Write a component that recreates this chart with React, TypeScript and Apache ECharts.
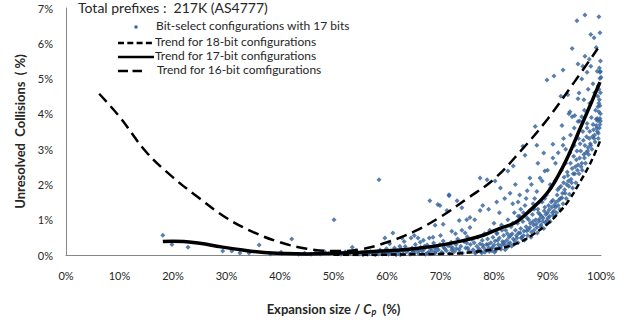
import React, { useEffect, useRef } from "react";
import * as echarts from "echarts";

const xTicks = [0, 10, 20, 30, 40, 50, 60, 70, 80, 90, 100];
const yTicks = [0, 1, 2, 3, 4, 5, 6, 7];

const titleText = "Total prefixes :  217K (AS4777)";
const scatterName = "Bit-select configurations with 17 bits";
const trend18Name = "Trend for 18-bit configurations";
const trend17Name = "Trend for 17-bit configurations";
const trend16Name = "Trend for 16-bit comfigurations";

// Trend lines [expansion %, unresolved collisions %]
const trend16: [number, number][] = [
  [6.2, 4.57], [10, 3.92], [15, 2.92], [20, 2.2], [25, 1.6], [30, 1.05], [35, 0.65],
  [40, 0.36], [45, 0.18], [50, 0.11], [55, 0.16], [60, 0.36], [65, 0.66], [70, 1.08],
  [75, 1.6], [80, 2.15], [85, 2.95], [90, 3.85], [95, 4.9], [99.4, 5.85],
];
const trend17: [number, number][] = [
  [18.1, 0.38], [20, 0.39], [22, 0.385], [25, 0.33], [29, 0.23], [33, 0.14], [37, 0.07],
  [41, 0.04], [45, 0.03], [50, 0.05], [55, 0.08], [60, 0.12], [65, 0.18], [70, 0.28],
  [74, 0.4], [78, 0.56], [81, 0.75], [84, 0.92], [87, 1.3], [89.9, 1.75], [92, 2.25],
  [94, 2.85], [96, 3.55], [98, 4.25], [99.8, 4.9],
];
const trend18: [number, number][] = [
  [50, 0.01], [55, 0.0], [60, 0.01], [65, 0.02], [70, 0.03], [74, 0.05], [78, 0.12],
  [82, 0.22], [85, 0.38], [87.5, 0.6], [90, 0.88], [92, 1.18], [94, 1.55], [96, 2.05],
  [98, 2.6], [99.8, 3.22],
];

// Bit-select configurations with 17 bits [expansion %, collisions %]
const bitSelectLeft: [number, number][] = [
  [18.1, 0.56], [19.8, 0.3], [22.8, 0.22], [29.3, 0.11], [31.0, 0.11], [32.5, 0.06],
  [34.2, 0.06], [36.1, 0.28], [38.2, 0.03], [40.2, 0.08], [42.2, 0.45], [43.5, 0.02],
  [44.6, 0.05], [45.8, 0.02], [46.7, 0.07], [47.5, 0.03], [48.3, 0.1], [49.1, 0.04],
  [50.1, 1.0], [50.6, 0.06], [51.4, 0.02], [52.2, 0.09], [53.0, 0.04], [53.5, 0.22],
  [54.2, 0.12], [54.8, 0.03],
];
const bitSelectOutliers: [number, number][] = [
  [58.5, 2.13], [59.6, 0.48], [61.1, 0.62], [62.4, 0.25], [62.8, 0.48], [64.5, 0.48],
  [65.8, 0.48], [66.2, 0.36], [68.0, 1.54], [67.9, 0.48], [69.0, 0.84], [69.5, 1.43],
  [70.5, 0.87], [71.2, 1.26], [71.6, 1.68], [72.1, 0.67], [73.1, 1.54], [73.5, 0.98],
  [74.0, 1.34], [74.9, 1.0], [75.5, 1.06], [76.4, 1.0], [77.4, 2.18], [78.7, 2.13],
  [77.4, 1.26], [77.9, 1.4], [75.5, 0.78], [74.0, 0.7], [69.9, 1.4], [71.6, 1.71],
  [80.2, 2.1], [82.6, 2.38], [83.6, 2.52], [60.5, 0.32], [63.2, 0.38], [66.8, 0.42],
  [70.0, 0.55], [72.8, 0.6], [74.6, 0.62], [65.1, 0.55], [68.6, 0.5],
];
const bitSelectLowBand: [number, number][] = [
  [55.5, 0.01], [55.9, 0.06], [56.4, 0.02], [56.9, 0.1], [57.3, 0.04], [57.8, 0.01],
  [58.2, 0.08], [58.7, 0.14], [59.1, 0.03], [59.4, 0.06], [59.9, 0.18], [60.3, 0.02],
  [60.6, 0.1], [61.0, 0.05], [61.4, 0.2], [61.7, 0.01], [62.0, 0.12], [62.3, 0.06],
  [62.7, 0.16], [63.0, 0.03], [63.4, 0.24], [63.7, 0.09], [64.0, 0.14], [64.3, 0.02],
  [64.7, 0.2], [65.0, 0.07], [65.3, 0.3], [65.6, 0.12], [65.9, 0.04], [66.3, 0.22],
  [66.6, 0.1], [66.9, 0.16], [67.2, 0.02], [67.5, 0.28], [67.8, 0.08], [68.1, 0.18],
  [68.4, 0.12], [68.7, 0.34], [69.0, 0.05], [69.3, 0.22], [69.6, 0.15], [69.9, 0.3],
  [70.2, 0.08], [70.5, 0.4], [70.8, 0.18], [71.1, 0.12], [71.4, 0.26], [71.7, 0.04],
  [72.0, 0.36], [72.3, 0.2], [72.6, 0.1], [72.9, 0.3], [73.2, 0.45], [73.5, 0.16],
  [73.8, 0.25], [74.1, 0.06], [74.4, 0.38], [74.7, 0.2], [75.0, 0.52], [75.3, 0.12],
  [75.6, 0.3], [75.9, 0.44], [60.1, 0.05], [61.6, 0.08], [63.1, 0.12], [64.6, 0.05],
  [66.1, 0.14], [67.6, 0.06], [69.1, 0.1], [70.6, 0.22], [72.1, 0.14], [73.6, 0.08],
  [75.1, 0.2], [76.9, 0.1], [77.9, 0.28], [56.6, 0.04], [58.4, 0.03], [59.7, 0.09],
  [62.5, 0.01], [64.9, 0.1], [67.0, 0.25], [68.9, 0.2], [70.4, 0.05], [71.9, 0.24],
  [73.0, 0.18], [74.9, 0.34],
];
const bitSelectMainBand: [number, number][] = [
  [76.1, 0.15], [76.3, 0.35], [76.6, 0.08], [76.8, 0.25], [77.0, 0.5], [77.2, 0.18],
  [77.4, 0.32], [77.6, 0.1], [77.8, 0.42], [78.0, 0.22], [78.2, 0.6], [78.4, 0.14],
  [78.6, 0.3], [78.8, 0.45], [79.0, 0.2], [79.2, 0.7], [79.4, 0.35], [79.6, 0.12],
  [79.8, 0.5], [80.0, 0.28], [80.2, 0.4], [80.4, 0.18], [80.6, 0.62], [80.8, 0.3],
  [81.0, 0.48], [81.2, 0.22], [81.4, 0.85], [81.6, 0.38], [81.8, 0.55], [82.0, 0.28],
  [82.2, 0.7], [82.4, 0.42], [82.6, 1.0], [82.8, 0.5], [83.0, 0.35], [83.2, 0.8],
  [83.4, 0.6], [83.6, 0.45], [83.8, 1.2], [84.0, 0.7], [84.2, 0.55], [84.4, 0.9],
  [84.6, 0.62], [84.8, 1.1], [85.0, 0.75], [85.2, 0.5], [85.4, 0.95], [85.6, 0.68],
  [85.8, 1.4], [86.0, 0.8], [86.2, 1.05], [86.4, 0.72], [86.6, 1.25], [86.8, 0.9],
  [87.0, 0.65], [87.2, 1.15], [87.4, 0.85], [87.6, 1.6], [87.8, 1.0], [88.0, 0.78],
  [88.2, 1.3], [88.4, 0.95], [88.6, 1.15], [88.8, 0.85], [89.0, 1.5], [89.2, 1.05],
  [89.4, 1.25], [89.6, 0.92], [89.8, 1.7], [90.0, 1.2], [90.2, 1.4], [90.4, 1.1],
  [90.6, 1.9], [90.8, 1.35], [91.0, 1.55], [91.2, 1.25], [91.4, 2.1], [91.6, 1.5],
  [91.8, 1.7], [92.0, 1.4], [92.2, 1.9], [92.4, 1.6], [92.6, 2.4], [92.8, 1.75],
  [93.0, 2.05], [93.2, 1.85], [93.4, 2.6], [93.6, 2.0], [93.8, 2.25], [94.0, 1.95],
  [94.2, 2.9], [94.4, 2.15], [94.6, 2.45], [94.8, 2.3], [95.0, 3.1], [95.2, 2.5],
  [95.4, 2.7], [95.6, 2.4], [95.8, 3.3], [96.0, 2.75], [96.2, 2.95], [96.4, 2.6],
  [96.6, 3.5], [96.8, 2.85], [97.0, 3.1], [97.2, 2.9], [97.4, 3.6], [97.6, 3.05],
  [97.8, 3.3], [98.0, 3.15], [98.2, 3.9], [98.4, 3.35], [98.6, 3.55], [98.8, 3.4],
  [99.0, 4.1], [99.2, 3.6], [99.4, 3.8], [99.6, 4.3], [99.8, 3.7], [99.9, 4.6],
  [78.3, 0.08], [79.1, 0.1], [79.7, 0.22], [80.3, 0.12], [80.9, 0.2], [81.5, 0.3],
  [82.1, 0.15], [82.7, 0.32], [83.3, 0.25], [83.9, 0.4], [84.5, 0.35], [85.1, 0.48],
  [85.7, 0.42], [86.3, 0.55], [86.9, 0.5], [87.5, 0.7], [88.1, 0.62], [88.7, 0.8],
  [89.3, 0.75], [89.9, 0.98], [90.5, 0.95], [91.1, 1.12], [91.7, 1.2], [92.3, 1.3],
  [92.9, 1.45], [93.5, 1.6], [94.1, 1.72], [94.7, 1.9], [95.3, 2.05], [95.9, 2.3],
  [96.5, 2.4], [97.1, 2.6], [97.7, 2.85], [98.3, 3.0], [98.9, 3.2], [99.5, 3.45],
];
const bitSelectCore: [number, number][] = [
  [76.5, 0.05], [77.1, 0.12], [77.7, 0.06], [78.9, 0.3], [79.5, 0.18], [80.1, 0.08],
  [80.7, 0.42], [81.3, 0.16], [81.9, 0.36], [82.5, 0.22], [83.1, 0.55], [83.7, 0.3],
  [84.3, 0.48], [84.9, 0.62], [85.5, 0.55], [86.1, 0.68], [86.7, 0.78], [87.3, 0.95],
  [87.9, 0.88], [88.5, 1.02], [89.1, 0.95], [89.7, 1.15], [90.3, 1.28], [90.9, 1.2],
  [91.5, 1.35], [92.1, 1.55], [92.7, 1.62], [93.3, 1.75], [93.9, 2.1], [94.5, 2.05],
  [95.1, 2.3], [95.7, 2.55], [96.3, 2.5], [96.9, 2.75], [97.5, 2.95], [98.1, 3.1],
  [98.7, 3.3], [99.3, 3.5], [99.9, 3.8], [88.3, 1.2], [88.9, 1.1], [89.5, 1.35],
  [90.1, 1.05], [90.7, 1.5], [91.3, 1.42], [91.9, 1.85], [92.5, 1.95], [93.1, 2.2],
  [93.7, 2.35], [94.3, 2.6], [94.9, 2.8], [95.5, 2.95], [96.1, 3.15], [96.7, 3.25],
  [97.3, 3.35], [97.9, 3.5], [98.5, 3.7], [99.1, 3.85], [99.7, 4.4], [99.6, 4.7],
  [99.8, 5.0], [99.4, 4.2], [99.9, 5.2], [80.5, 0.6], [81.5, 0.7], [82.5, 0.6],
  [83.5, 0.9], [84.5, 1.1], [85.5, 1.2], [86.5, 1.0], [87.5, 1.3], [88.5, 1.5],
  [89.5, 1.6],
];
const bitSelectUpper: [number, number][] = [
  [80.5, 1.5], [81.2, 1.9], [82.0, 1.6], [83.0, 1.75], [84.0, 2.0], [84.5, 1.5],
  [85.4, 3.08], [85.8, 2.83], [86.2, 1.82], [86.7, 2.18], [87.0, 2.0], [87.7, 3.64],
  [88.0, 3.11], [88.2, 2.6], [88.6, 2.18], [89.3, 2.89], [89.5, 2.38], [89.9, 4.96],
  [91.0, 3.14], [91.0, 2.75], [91.2, 5.07], [92.5, 4.5], [92.7, 3.67], [92.9, 3.11],
  [92.9, 5.24], [93.8, 4.54], [94.0, 4.0], [94.2, 4.06], [94.6, 3.92], [94.6, 5.85],
  [95.1, 3.95], [95.5, 6.64], [95.7, 5.41], [95.7, 4.43], [95.7, 3.78], [95.9, 4.59],
  [96.4, 4.99], [96.4, 3.92], [96.6, 5.35], [96.8, 4.4], [97.0, 6.8], [97.0, 5.63],
  [97.4, 5.18], [97.4, 3.73], [97.6, 4.7], [97.8, 5.55], [98.1, 6.25], [98.1, 5.35],
  [98.5, 4.85], [98.7, 6.16], [99.1, 5.88], [99.1, 3.67], [99.3, 5.21], [99.3, 3.87],
  [99.4, 4.5], [99.6, 6.75], [99.6, 4.06], [99.8, 6.3], [99.8, 5.18], [99.8, 4.23],
  [99.8, 3.87], [100, 5.04], [85.0, 1.3], [86.0, 1.6], [87.3, 1.45], [88.0, 1.8],
  [89.0, 2.1], [90.0, 2.4], [90.5, 2.0], [91.5, 2.6], [92.0, 2.9], [93.0, 3.3],
  [93.4, 3.0], [94.3, 3.4], [95.0, 3.6], [96.0, 3.8], [96.9, 4.1], [97.9, 4.3],
  [98.8, 4.6], [99.5, 4.8], [99.7, 5.3], [99.9, 5.5], [99.5, 3.3], [99.7, 3.6],
  [99.9, 4.0], [79.0, 1.3], [80.0, 0.9], [81.0, 1.2], [83.5, 1.45], [84.8, 1.7],
];

const FONT = "Lato, 'Liberation Sans', sans-serif";
const TEXT = "#262626";
const AXIS = "#868686";
const DOT = "#2f5f98";

export default function App() {
  const ref = useRef<HTMLDivElement>(null);
  useEffect(() => {
    if (!ref.current) return;
    const chart = echarts.init(ref.current, null, { renderer: "svg" });
    const points = [
      ...bitSelectLeft,
      ...bitSelectOutliers,
      ...bitSelectLowBand,
      ...bitSelectMainBand,
      ...bitSelectCore,
      ...bitSelectUpper,
    ];
    const legendText = (y: number, x: number, text: string) => ({
      type: "text",
      left: x,
      top: y - 7.5,
      style: { text, fill: TEXT, font: `12px ${FONT}` },
    });
    chart.setOption({
      animation: false,
      backgroundColor: "#ffffff",
      grid: { left: 66, right: 30, top: 8, bottom: 63, containLabel: false },
      xAxis: {
        type: "value",
        min: xTicks[0],
        max: xTicks[xTicks.length - 1],
        interval: 10,
        name: "{b|Expansion size / }{i|C}{s|p}{b|  (%)}",
        nameLocation: "middle",
        nameGap: 46,
        nameTextStyle: {
          rich: {
            b: { fontFamily: FONT, fontSize: 13, fontWeight: "bold", color: TEXT },
            i: { fontFamily: FONT, fontSize: 13, fontWeight: "bold", fontStyle: "italic", color: TEXT },
            s: { fontFamily: FONT, fontSize: 9, fontWeight: "bold", fontStyle: "italic", color: TEXT, padding: [6, 0, 0, 0] },
          },
        },
        axisLine: { show: true, lineStyle: { color: AXIS, width: 1 } },
        axisTick: { show: false },
        splitLine: { show: false },
        axisLabel: { formatter: "{value}%", margin: 15, fontFamily: FONT, fontSize: 11, color: TEXT },
      },
      yAxis: {
        type: "value",
        min: yTicks[0],
        max: yTicks[yTicks.length - 1],
        interval: 1,
        name: "Unresolved  Collisions  ( %)",
        nameLocation: "middle",
        nameGap: 40,
        nameTextStyle: { fontFamily: FONT, fontSize: 13, fontWeight: "bold", color: TEXT },
        axisLine: { show: true, lineStyle: { color: AXIS, width: 1 } },
        axisTick: { show: false },
        splitLine: { show: false },
        axisLabel: { formatter: "{value}%", margin: 13, fontFamily: FONT, fontSize: 11, color: TEXT },
      },
      series: [
        {
          name: scatterName,
          type: "scatter",
          data: points,
          symbol: "diamond",
          symbolSize: 5,
          itemStyle: { color: DOT },
          z: 2,
        },
        {
          name: trend18Name,
          type: "line",
          data: trend18,
          smooth: 0.4,
          showSymbol: false,
          lineStyle: { color: "#000", width: 2.5, type: [6, 3.5] },
          z: 3,
        },
        {
          name: trend17Name,
          type: "line",
          data: trend17,
          smooth: 0.4,
          showSymbol: false,
          lineStyle: { color: "#000", width: 3.5, type: "solid" },
          z: 3,
        },
        {
          name: trend16Name,
          type: "line",
          data: trend16,
          smooth: 0.4,
          showSymbol: false,
          lineStyle: { color: "#000", width: 2.5, type: [11, 6] },
          z: 3,
        },
      ],
      graphic: [
        {
          type: "text",
          left: 78,
          top: 0,
          style: { text: titleText, fill: TEXT, font: `14px ${FONT}` },
        },
        { type: "rect", shape: { x: 134.5, y: 25.5, width: 3, height: 3 }, style: { fill: DOT } },
        legendText(27, 156, scatterName),
        { type: "line", shape: { x1: 118, y1: 43, x2: 154, y2: 43 }, style: { stroke: "#000", lineWidth: 2.5, lineDash: [6, 3.3] } },
        legendText(43, 155, trend18Name),
        { type: "line", shape: { x1: 118, y1: 57, x2: 154, y2: 57 }, style: { stroke: "#000", lineWidth: 2.5 } },
        legendText(57, 155, trend17Name),
        { type: "line", shape: { x1: 118, y1: 71, x2: 142, y2: 71 }, style: { stroke: "#000", lineWidth: 2.5, lineDash: [10, 4.5] } },
        legendText(71, 157, trend16Name),
      ],
    });
    return () => chart.dispose();
  }, []);
  return <div ref={ref} style={{ width: 631, height: 321, position: "absolute", left: 0, top: 0 }} />;
}
